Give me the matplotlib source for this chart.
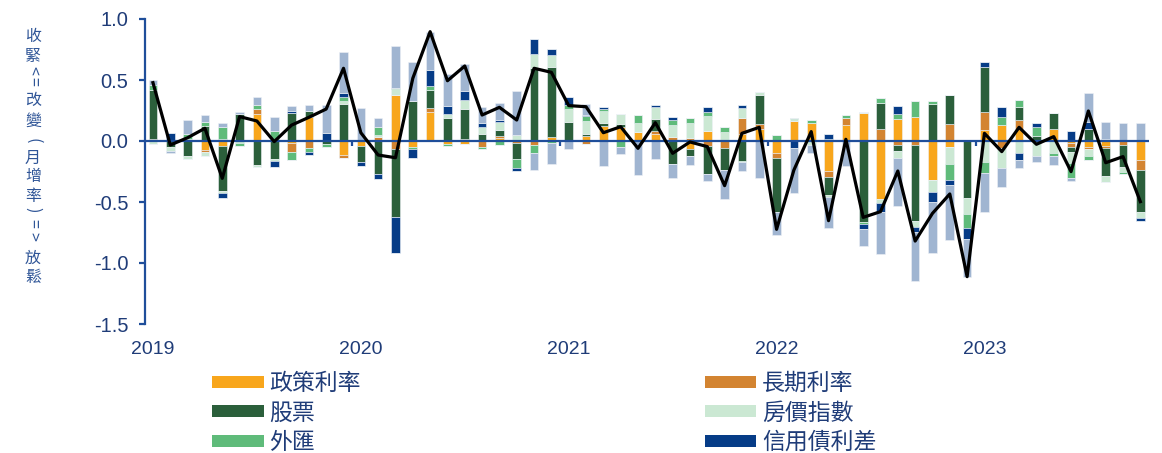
import matplotlib
matplotlib.use("agg")
import numpy as np
from matplotlib import pyplot as plt
from matplotlib.patches import Patch

plt.rcParams["axes.unicode_minus"] = False

# monthly contributions, Jan 2019 - Oct 2023
policy_rate = [0.02, 0.01, 0.02, -0.075, -0.04, 0, 0.224, 0, -0.02, 0.2, 0, -0.115,
               -0.04, 0, 0.377, -0.046, 0.24, -0.025, -0.025, 0, 0.022, 0, 0, 0.03,
               0, 0.044, 0.126, 0.112, 0.071, 0.055, 0, -0.066, 0.085, 0, 0.06, 0.1,
               -0.096, 0.164, 0.15, -0.243, 0.131, 0.227, -0.478, 0.178, 0.194, -0.32, -0.046, 0,
               0.09, 0.131, 0.096, 0, 0.098, -0.02, -0.046, -0.04, 0, -0.156]
long_rate = [0, 0, 0, -0.015, 0.014, 0, 0.035, 0, -0.07, -0.055, 0.01, -0.027,
             0, 0.033, -0.068, 0, 0.027, 0, 0.016, -0.052, 0.022, -0.02, -0.033, 0,
             0, -0.025, 0, 0, 0, 0.03, 0.036, 0.027, -0.04, -0.055, 0.126, 0.04,
             -0.04, 0, 0, -0.049, 0.055, 0, 0.098, -0.03, -0.03, 0, 0.137, 0,
             0.145, -0.055, 0.08, 0, 0, -0.027, -0.022, -0.02, -0.033, -0.082]
stocks = [0.40, -0.05, -0.12, 0.12, -0.37, 0.22, -0.197, -0.148, 0.227, 0.05, -0.027, 0.303,
          -0.134, -0.273, -0.557, 0.33, 0.15, 0.19, 0.243, 0.057, 0.046, -0.128, 0.6, 0.58,
          0.156, 0.01, 0.02, 0.027, 0, 0.096, -0.189, -0.055, -0.232, -0.183, -0.16, 0.24,
          -0.443, 0, 0, -0.15, 0, -0.661, 0.216, -0.05, -0.628, 0.303, 0.24, -0.464,
          0.369, 0, 0.1, 0.044, 0.128, -0.044, 0.098, -0.224, -0.178, -0.347]
house_price = [-0.025, -0.03, -0.03, -0.03, -0.02, -0.02, -0.02, -0.016, 0, 0, 0, 0.025,
               0, 0.016, 0.046, 0, 0, 0.03, 0.077, 0.055, 0.066, 0.05, 0.112, 0.096,
               0.107, 0.112, 0.104, 0.082, 0.074, 0.1, 0.096, 0.117, 0.12, 0.071, 0.082, 0.025,
               0, 0.014, -0.033, -0.014, 0, 0.014, -0.033, -0.06, -0.046, -0.096, -0.142, -0.137,
               -0.17, -0.164, -0.1, -0.123, -0.1, -0.087, -0.055, -0.05, -0.041, -0.044]
fx = [0.04, 0, 0.035, 0.035, 0.104, -0.02, 0.035, 0.085, -0.068, -0.038, -0.02, 0.03,
      0, 0.066, 0.014, -0.022, 0.033, -0.02, 0, -0.01, -0.035, -0.071, -0.068, -0.02,
      0.033, 0.038, 0.016, -0.046, 0.068, 0, 0.041, 0.041, 0.03, 0.041, -0.014, 0,
      0.05, 0.008, 0.019, 0.014, 0.027, -0.02, 0.035, 0.044, 0.137, 0.027, -0.131, -0.115,
      -0.096, 0.068, 0.063, 0.074, -0.022, -0.128, -0.03, 0.019, -0.022, 0.01]
credit_spread = [0, 0.055, 0, 0, -0.04, 0, 0, -0.046, 0.022, -0.022, 0.055, 0.033,
                 -0.03, -0.04, -0.295, -0.074, 0.131, 0.066, 0.074, 0.038, 0.016, -0.025, 0.12, 0.046,
                 0.063, 0.01, 0.01, 0, 0, 0.01, 0.022, 0, 0.041, 0, 0.027, 0,
                 0, -0.055, 0, 0.041, 0, -0.038, -0.068, 0.066, -0.044, -0.082, -0.041, -0.087,
                 0.046, 0.082, -0.057, 0.027, 0, 0.082, 0.06, 0, 0, -0.025]
other = [0.04, -0.02, 0.115, 0.06, 0.033, 0.016, 0.07, 0.115, 0.04, 0.046, 0.23, 0.34,
         0.273, 0.077, 0.344, 0.314, 0.314, 0.262, 0.221, 0.126, 0.137, 0.36, -0.137, -0.17,
         -0.066, 0.092, -0.205, -0.06, -0.279, -0.148, -0.112, -0.077, -0.052, -0.24, -0.068, -0.3,
         -0.19, -0.374, -0.063, -0.26, -0.205, -0.145, -0.347, -0.39, -0.4, -0.423, -0.45, -0.309,
         -0.32, -0.156, -0.068, -0.052, -0.074, -0.022, 0.238, 0.137, 0.145, 0.134]
total = [0.478, -0.033, 0.027, 0.104, -0.306, 0.2, 0.164, -0.005, 0.13, 0.194, 0.262, 0.596,
         0.068, -0.115, -0.137, 0.514, 0.896, 0.494, 0.615, 0.213, 0.276, 0.172, 0.596, 0.563,
         0.29, 0.281, 0.068, 0.117, -0.06, 0.15, -0.101, -0.008, -0.046, -0.366, 0.063, 0.112,
         -0.724, -0.238, 0.077, -0.653, 0.014, -0.626, -0.579, -0.246, -0.82, -0.593, -0.434, -1.112,
         0.063, -0.087, 0.112, -0.027, 0.036, -0.251, 0.246, -0.178, -0.128, -0.497]

years = ["2019", "2020", "2021", "2022", "2023"]

series = [
    ("政策利率", policy_rate, "#F8A61C"),
    ("長期利率", long_rate, "#D38431"),
    ("股票", stocks, "#2B5F3B"),
    ("房價指數", house_price, "#CBE8D3"),
    ("外匯", fx, "#5FBB7A"),
    ("信用債利差", credit_spread, "#063C87"),
    ("其他", other, "#A0B5D1"),
]

axis_blue = "#1F4E9A"
text_blue = "#1F3C78"
cjk = ["Noto Sans CJK TC", "DejaVu Sans"]

fig = plt.figure(figsize=(11.62, 4.53), dpi=100)
ax = fig.add_axes([145 / 1162, 1 - 324 / 453, 1004 / 1162, 305 / 453])

x = np.arange(len(total))
pos_base = np.zeros(len(x))
neg_base = np.zeros(len(x))
for name, vals, color in series:
    v = np.array(vals, dtype=float)
    pos = np.where(v > 0, v, 0)
    neg = np.where(v < 0, v, 0)
    ax.bar(x, pos, bottom=pos_base, width=0.5, color=color,
           edgecolor="#EEF2F7", linewidth=0.4, zorder=2)
    ax.bar(x, neg, bottom=neg_base, width=0.5, color=color,
           edgecolor="#EEF2F7", linewidth=0.4, zorder=2)
    pos_base += pos
    neg_base += neg

# zero line with year-boundary ticks
ax.axhline(0, color=axis_blue, lw=1.6, zorder=2.5)
bounds = [12 * k - 0.5 for k in range(1, len(years))]
ax.vlines(bounds, -0.045, 0, color=axis_blue, lw=1.6, zorder=2.5)

ax.plot(x, total, color="black", lw=2.3, zorder=3)

ax.set_xlim(-0.46, 57.5)
ax.set_ylim(-1.5, 1.0)
ax.set_yticks([1.0, 0.5, 0.0, -0.5, -1.0, -1.5])
ax.set_yticklabels([f"{t:.1f}" for t in [1.0, 0.5, 0.0, -0.5, -1.0, -1.5]])
ax.set_xticks(np.arange(len(years)) * 12)
ax.set_xticklabels(years)

for s in ["top", "right", "bottom"]:
    ax.spines[s].set_visible(False)
ax.spines["left"].set_color(axis_blue)
ax.spines["left"].set_linewidth(1.6)
ax.tick_params(axis="y", colors=axis_blue, length=4, width=1.6, pad=8,
               labelcolor=text_blue, labelsize=14.5)
ax.tick_params(axis="x", length=0, pad=12, labelcolor=text_blue, labelsize=14)
for lab in ax.get_xticklabels() + ax.get_yticklabels():
    lab.set_fontfamily("Liberation Sans")

# vertical y-axis caption, one glyph per line
caption = ["收", "緊", "<", "=", "改", "變", "(", "月", "增", "率", ")", "=", ">", "放", "鬆"]
caption_y = [36, 56, 70, 81, 100, 121, 141, 158, 177, 196, 210, 223, 236, 258, 277]
for ch, ypx in zip(caption, caption_y):
    rot = -90 if ch in "<=>()" else 0
    fig.text(33 / 1162, 1 - ypx / 453, ch, rotation=rot, ha="center", va="center",
             rotation_mode="anchor", fontsize=11.5, color="#2F5597", family=cjk)

handles = [Patch(facecolor=c, edgecolor="none", label=n) for n, _, c in series[:6]]
order = [0, 2, 4, 1, 3, 5]
leg = fig.legend([handles[i] for i in order], [handles[i].get_label() for i in order],
                 ncol=2, loc="upper left", bbox_to_anchor=(212 / 1162, 1 - 372 / 453),
                 borderaxespad=0, frameon=False, handlelength=2.25, handleheight=0.45,
                 handletextpad=0.25, columnspacing=15.0, labelspacing=0.28, borderpad=0,
                 prop={"family": cjk, "size": 16.5})
for t in leg.get_texts():
    t.set_color(text_blue)

fig.savefig("out.png", dpi=100)
